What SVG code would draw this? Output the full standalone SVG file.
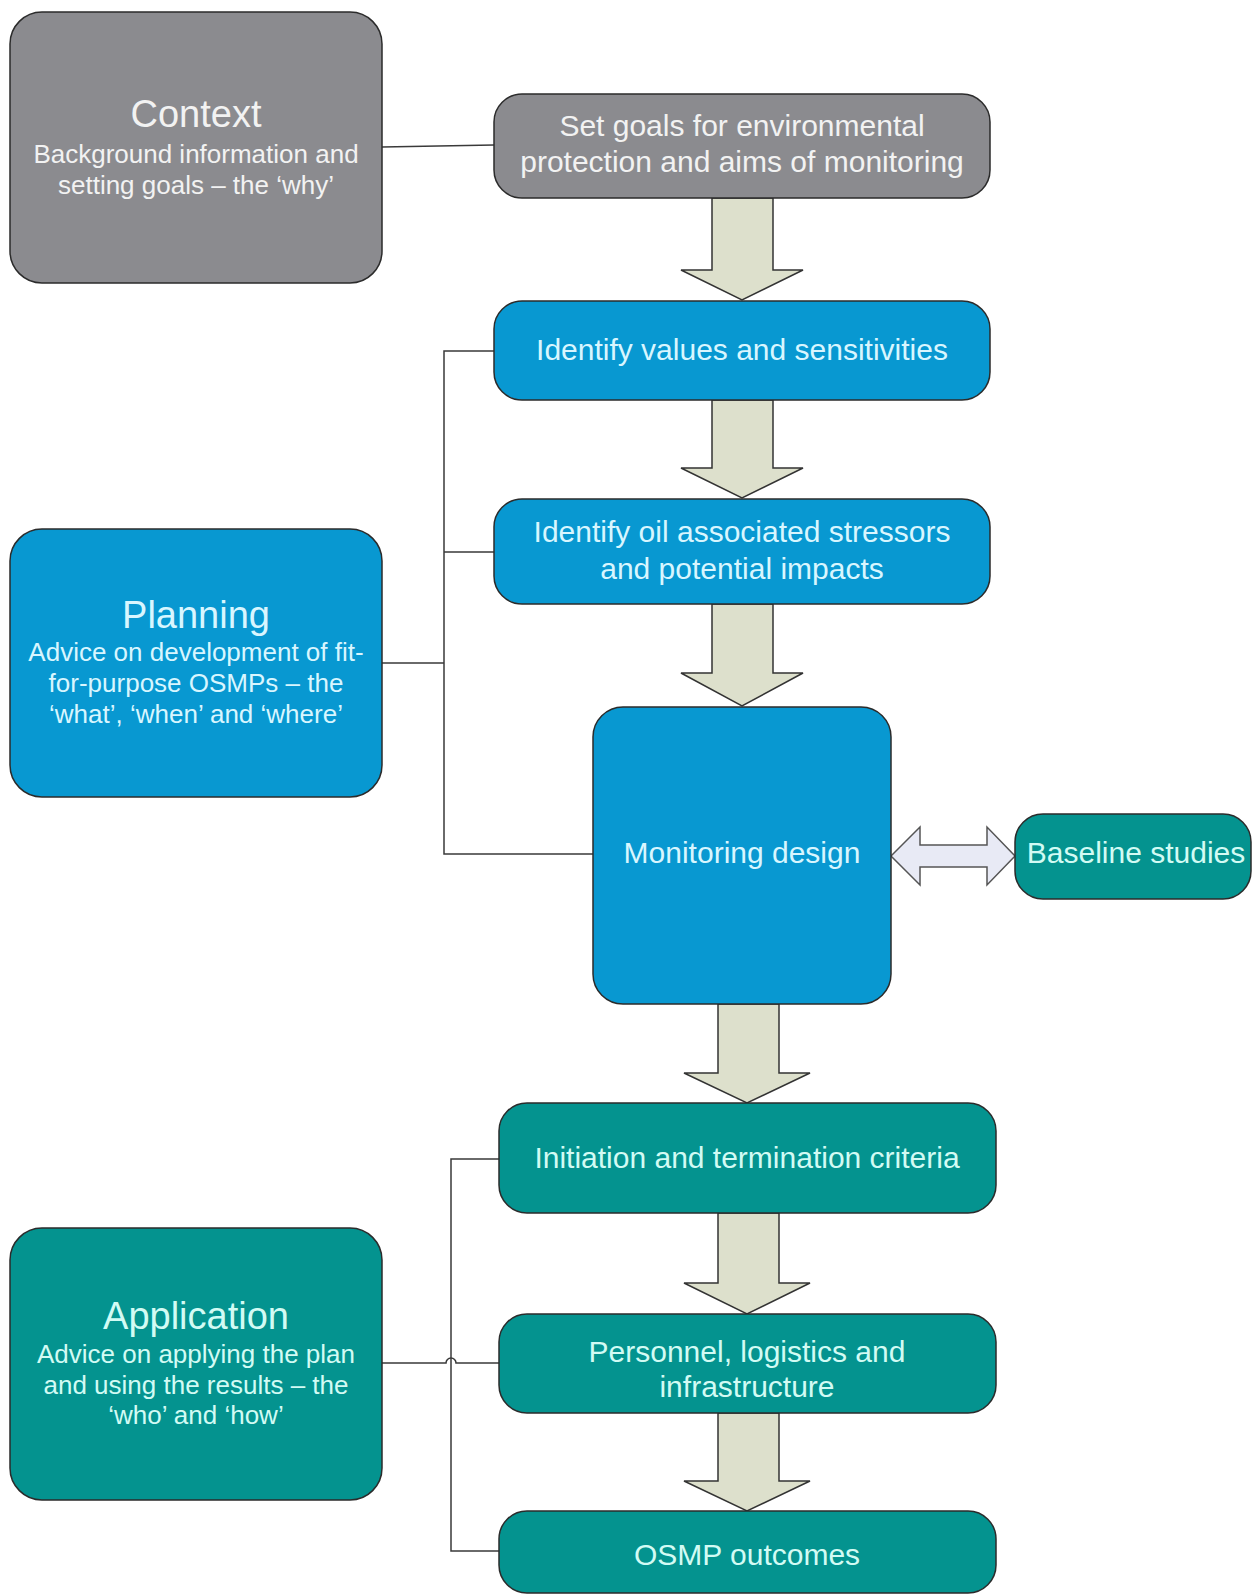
<svg xmlns="http://www.w3.org/2000/svg" width="1252" height="1595" viewBox="0 0 1252 1595">
  <style>
    .box { stroke: #2b2b2b; stroke-width: 1.5; }
    .gray { fill: #8b8b8f; }
    .blue { fill: #0898d1; }
    .teal { fill: #04938f; }
    text { font-family: "Liberation Sans", Arial, sans-serif; text-anchor: middle; }
    .tg { fill: #f2f2f2; }
    .tb { fill: #d8f6ff; }
    .tt { fill: #d2fbf4; }
    .title { font-size: 38px; }
    .sub { font-size: 26px; }
    .lbl { font-size: 30px; }
    .link { fill: none; stroke: #3a3a3a; stroke-width: 1.5; }
    .flow { fill: #dde0cc; stroke: #333; stroke-width: 1.5; stroke-linejoin: miter; }
    .dbl { fill: #e8eaf5; stroke: #555; stroke-width: 1.5; }
  </style>
  <rect width="1252" height="1595" fill="#ffffff"/>

  <!-- connectors -->
  <g id="connectors">
    <line class="link" x1="382" y1="147" x2="494" y2="145"/>
    <!-- planning bracket -->
    <path class="link" d="M494 351 H444 V854 H593 M444 552 H494 M382 663 H444"/>
    <!-- application bracket -->
    <path class="link" d="M499 1159 H451 V1551 H499"/>
    <path class="link" d="M382 1363 H446 A5 5 0 0 1 456 1363 H499"/>
    <!-- block arrows between steps -->
    <path class="flow" d="M712 198 H773 V270 H803 L742 300 L681 270 H712 Z"/>
    <path class="flow" d="M712 400 H773 V468 H803 L742 498 L681 468 H712 Z"/>
    <path class="flow" d="M712 604 H773 V673 H803 L742 706 L681 673 H712 Z"/>
    <path class="flow" d="M718 1004 H779 V1073 H810 L747 1103 L684 1073 H718 Z"/>
    <path class="flow" d="M718 1213 H779 V1283 H810 L747 1314 L684 1283 H718 Z"/>
    <path class="flow" d="M718 1413 H779 V1481 H810 L747 1511 L684 1481 H718 Z"/>
    <!-- two-way arrow to baseline studies -->
    <path class="dbl" d="M891 856 L920 827 V845 H987 V827 L1015 856 L987 885 V867 H920 V885 Z"/>
  </g>

  <g id="context">
    <rect class="box gray" x="10" y="12" width="372" height="271" rx="32"/>
    <text class="tg title" x="196" y="127">Context</text>
    <text class="tg sub" x="196" y="163">Background information and</text>
    <text class="tg sub" x="196" y="194">setting goals – the ‘why’</text>
  </g>

  <g id="set-goals">
    <rect class="box gray" x="494" y="94" width="496" height="104" rx="28"/>
    <text class="tg lbl" x="742" y="136">Set goals for environmental</text>
    <text class="tg lbl" x="742" y="172">protection and aims of monitoring</text>
  </g>

  <g id="identify-values">
    <rect class="box blue" x="494" y="301" width="496" height="99" rx="28"/>
    <text class="tb lbl" x="742" y="360">Identify values and sensitivities</text>
  </g>

  <g id="identify-stressors">
    <rect class="box blue" x="494" y="499" width="496" height="105" rx="28"/>
    <text class="tb lbl" x="742" y="542">Identify oil associated stressors</text>
    <text class="tb lbl" x="742" y="579">and potential impacts</text>
  </g>

  <g id="planning">
    <rect class="box blue" x="10" y="529" width="372" height="268" rx="32"/>
    <text class="tb title" x="196" y="628">Planning</text>
    <text class="tb sub" x="196" y="661">Advice on development of fit-</text>
    <text class="tb sub" x="196" y="692">for-purpose OSMPs – the</text>
    <text class="tb sub" x="196" y="723">‘what’, ‘when’ and ‘where’</text>
  </g>

  <g id="monitoring-design">
    <rect class="box blue" x="593" y="707" width="298" height="297" rx="30"/>
    <text class="tb lbl" x="742" y="863">Monitoring design</text>
  </g>

  <g id="baseline-studies">
    <rect class="box teal" x="1015" y="814" width="236" height="85" rx="28"/>
    <text class="tt lbl" x="1136" y="863">Baseline studies</text>
  </g>

  <g id="initiation">
    <rect class="box teal" x="499" y="1103" width="497" height="110" rx="28"/>
    <text class="tt lbl" x="747" y="1168">Initiation and termination criteria</text>
  </g>

  <g id="personnel">
    <rect class="box teal" x="499" y="1314" width="497" height="99" rx="28"/>
    <text class="tt lbl" x="747" y="1362">Personnel, logistics and</text>
    <text class="tt lbl" x="747" y="1397">infrastructure</text>
  </g>

  <g id="outcomes">
    <rect class="box teal" x="499" y="1511" width="497" height="82" rx="28"/>
    <text class="tt lbl" x="747" y="1565">OSMP outcomes</text>
  </g>

  <g id="application">
    <rect class="box teal" x="10" y="1228" width="372" height="272" rx="32"/>
    <text class="tt title" x="196" y="1329">Application</text>
    <text class="tt sub" x="196" y="1363">Advice on applying the plan</text>
    <text class="tt sub" x="196" y="1394">and using the results – the</text>
    <text class="tt sub" x="196" y="1424">‘who’ and ‘how’</text>
  </g>
</svg>
